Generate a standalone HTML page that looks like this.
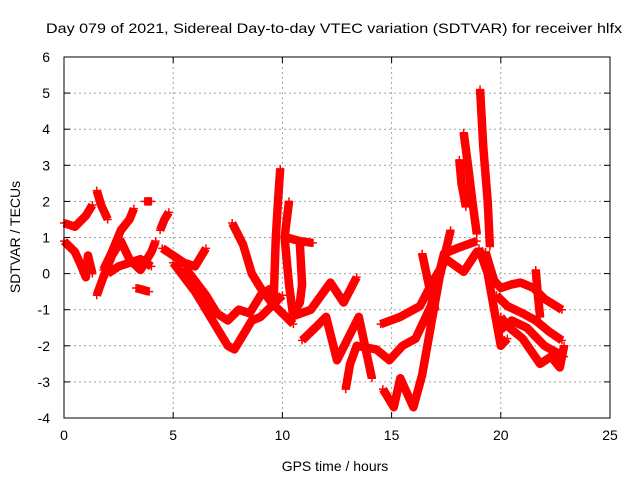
<!DOCTYPE html>
<html><head><meta charset="utf-8"><style>
body{margin:0;background:#fff;}
svg{display:block;font-family:"Liberation Sans",sans-serif;}
</style></head><body>
<svg id="chart" width="640" height="480" viewBox="0 0 640 480" xmlns="http://www.w3.org/2000/svg">
<rect width="640" height="480" fill="#fff"/>
<text x="334" y="33" font-size="14" text-anchor="middle" textLength="576" lengthAdjust="spacingAndGlyphs">Day 079 of 2021, Sidereal Day-to-day VTEC variation (SDTVAR) for receiver hlfx</text>
<text x="335" y="471" font-size="14" text-anchor="middle">GPS time / hours</text>
<text transform="translate(20,237) rotate(-90)" font-size="14" text-anchor="middle">SDTVAR / TECUs</text>
<g id="grid"></g>
<g id="ticks"></g>
<g id="marks"></g>
<rect x="64" y="57" width="546" height="361" fill="none" stroke="#000" stroke-width="1"/>
</svg>
<script>
const xTicks=[0,5,10,15,20,25];
const yTicks=[-4,-3,-2,-1,0,1,2,3,4,5,6];
const s1=[[0,1.4],[0.5,1.3],[1,1.6],[1.3,1.9]];
const s2=[[1.5,2.3],[1.7,1.9],[2,1.5]];
const s3=[[1.8,0.1],[2.2,0.6],[2.6,1.2],[3,1.5],[3.2,1.8]];
const s4=[[0,0.9],[0.5,0.6],[0.8,0.2],[1.0,-0.1],[1.1,0.5],[1.3,0]];
const s5=[[1.5,-0.6],[1.8,-0.1],[2.2,0.5],[2.6,0.9],[3,0.4],[3.5,0.1],[4,0.6],[4.2,0.9]];
const s6=[[2.0,0.0],[2.5,0.2],[3.0,0.3],[3.5,0.4],[4.0,0.2]];
const s7=[[3.3,-0.4],[3.9,-0.5]];
const s8=[[3.7,2.0],[4.0,2.0]];
const s9=[[4.4,1.2],[4.6,1.5],[4.8,1.7]];
const s10=[[4.5,0.7],[5,0.5],[5.5,0.3],[6,0.2],[6.5,0.7]];
const s11=[[5,0.3],[5.5,-0.1],[6,-0.5],[6.5,-1.0],[7,-1.5],[7.5,-2.0],[7.8,-2.1],[8.2,-1.7],[8.6,-1.3],[9,-1.2],[9.5,-0.9],[10,-0.6]];
const s12=[[5.5,0.2],[6,-0.2],[6.5,-0.6],[7,-1.1],[7.5,-1.3],[8,-1.0],[8.5,-1.1],[9,-0.6],[9.5,-0.4]];
const s13=[[7.7,1.4],[8.2,0.8],[8.6,0.0],[9,-0.4],[9.5,-0.8],[10,-1.1],[10.5,-1.4]];
const s14=[[9.9,2.9],[9.8,2.0],[9.7,1.0],[9.6,-0.7]];
const s15=[[10.3,2.0],[10.1,1.0],[10.3,-0.3],[10.5,-1.2]];
const s16=[[10.2,1.0],[10.8,0.9],[11.4,0.85]];
const s17=[[10.8,0.8],[10.9,-0.3],[10.8,-0.8],[10.4,-1.2]];
const s18=[[10.4,-1.2],[11.3,-1.0],[12.2,-0.25],[12.8,-0.8],[13.4,-0.1]];
const s19=[[10.9,-1.85],[11.5,-1.5],[12,-1.2],[12.5,-2.4],[13,-1.8],[13.5,-1.2],[14.1,-2.9]];
const s20=[[12.9,-3.2],[13.1,-2.5],[13.4,-2.0],[14.3,-2.1],[14.9,-2.4],[15.5,-2.0],[16.1,-1.8],[16.8,-0.9],[17.4,0.55],[18,0.7],[18.9,0.9]];
const s21=[[14.5,-1.4],[15.4,-1.2],[16.3,-0.9],[16.9,-0.2],[17.5,0.4],[18.3,0.05],[18.9,0.6],[19.3,0.5]];
const s22=[[14.6,-3.2],[15.1,-3.7],[15.4,-2.9],[16,-3.7],[16.4,-2.8],[16.9,-1.1],[17.2,-0.1],[17.7,1.2]];
const s23=[[16.4,0.55],[16.7,-0.3],[17,-1.0]];
const s24=[[19.05,5.1],[19.2,3.5],[19.4,2.0],[19.5,0.75]];
const s25=[[18.3,3.9],[18.5,3.0],[18.7,2.0],[18.9,1.1]];
const s26=[[18.1,3.15],[18.2,2.5],[18.4,1.85]];
const s27=[[19,0.7],[19.4,0.0],[19.7,-1.0],[20,-2.0],[20.3,-1.8]];
const s28=[[19.3,0.6],[19.7,-0.2],[20,-0.4],[20.5,-0.3],[20.9,-0.25],[21.5,-0.4],[22,-0.7],[22.8,-1.0]];
const s29=[[19.8,-0.6],[20.3,-0.9],[21,-1.1],[21.6,-1.3],[22.2,-1.6],[22.8,-1.85]];
const s30=[[20.0,-1.2],[20.3,-1.45],[21,-1.8],[21.8,-2.5],[22.3,-2.3],[22.7,-2.6],[22.9,-2.0]];
const s31=[[21.6,0.1],[21.7,-0.6],[21.8,-1.2]];
const s32=[[19.9,-1.6],[20.5,-1.3],[21.2,-1.5],[22,-2.0],[22.9,-2.3]];
const seriesList=[s1,s2,s3,s4,s5,s6,s7,s8,s9,s10,s11,s12,s13,s14,s15,s16,s17,s18,s19,s20,s21,s22,s23,s24,s25,s26,s27,s28,s29,s30,s31,s32];

const NS="http://www.w3.org/2000/svg";
const X0=64,X1=610,Y0=418,Y1=57,xmin=0,xmax=25,ymin=-4,ymax=6;
function xs(v){return X0+(v-xmin)/(xmax-xmin)*(X1-X0);}
function ys(v){return Y0-(v-ymin)/(ymax-ymin)*(Y0-Y1);}
function mk(tag,attrs,parent){const e=document.createElementNS(NS,tag);for(const k in attrs)e.setAttribute(k,attrs[k]);parent.appendChild(e);return e;}
const grid=document.getElementById('grid'),ticks=document.getElementById('ticks'),marks=document.getElementById('marks');
xTicks.forEach(t=>{
  const x=xs(t);
  if(t>xmin&&t<xmax){const g=mk('line',{x1:x,x2:x,y1:Y1,y2:Y0,stroke:'#a0a0a0','stroke-dasharray':'2,3'},grid);
  
  }
  mk('line',{x1:x,x2:x,y1:Y0,y2:Y0-6,stroke:'#000'},ticks);
  mk('line',{x1:x,x2:x,y1:Y1,y2:Y1+6,stroke:'#000'},ticks);
  const l=mk('text',{x:x,y:Y0+22,'font-size':14,'text-anchor':'middle'},ticks);
  l.textContent=t;
  
  
});
yTicks.forEach(t=>{
  const y=ys(t);
  if(t>ymin&&t<ymax){const g=mk('line',{x1:X0,x2:X1,y1:y,y2:y,stroke:'#a0a0a0','stroke-dasharray':'2,3'},grid);
  
  }
  mk('line',{x1:X0,x2:X0+6,y1:y,y2:y,stroke:'#000'},ticks);
  mk('line',{x1:X1,x2:X1-6,y1:y,y2:y,stroke:'#000'},ticks);
  const l=mk('text',{x:X0-14,y:y+5,'font-size':14,'text-anchor':'end'},ticks);
  l.textContent=t;
  
  
});
seriesList.forEach((s,i)=>{
  const pts=s.map(p=>xs(p[0]).toFixed(1)+','+ys(p[1]).toFixed(1)).join(' ');
  const pl=mk('polyline',{points:pts,fill:'none',stroke:'#ff0000','stroke-width':8.5,'stroke-linejoin':'round','stroke-linecap':'butt'},marks);
  
  
  s.forEach(p=>{
    const x=xs(p[0]),y=ys(p[1]);
    const m=mk('path',{d:`M${x-4},${y}H${x+4}M${x},${y-4}V${y+4}`,stroke:'#ff0000','stroke-width':1.5},marks);
    
    
  });
});
</script>
</body></html>
